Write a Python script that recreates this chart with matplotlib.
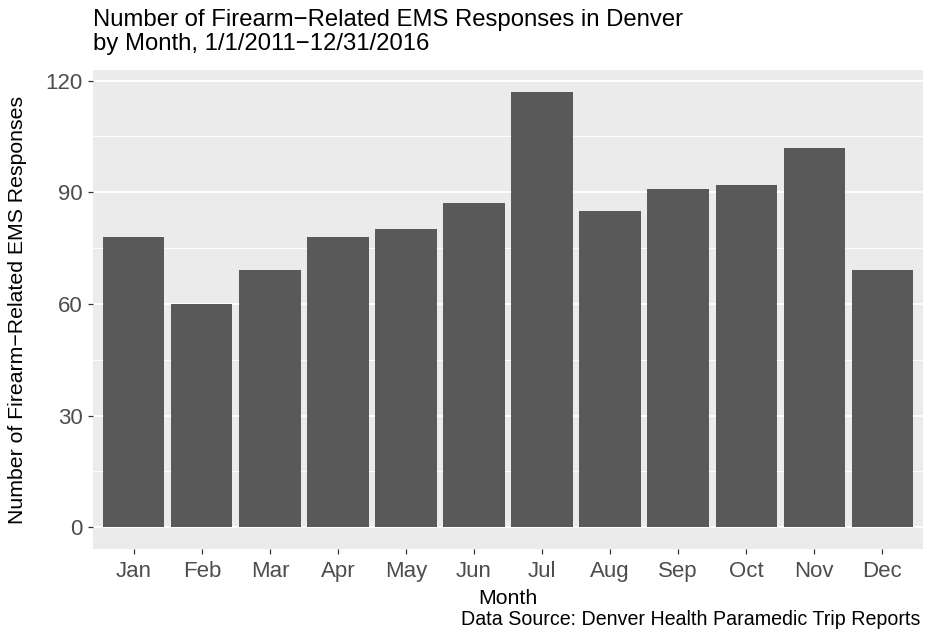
import matplotlib
matplotlib.use("Agg")
import matplotlib.pyplot as plt

# monthly counts
months = ["Jan", "Feb", "Mar", "Apr", "May", "Jun",
          "Jul", "Aug", "Sep", "Oct", "Nov", "Dec"]
responses = [78, 60, 69, 78, 80, 87, 117, 85, 91, 92, 102, 69]
y_ticks = [0, 30, 60, 90, 120]
y_minor = [15, 45, 75, 105]

plt.rcParams["font.family"] = ["Liberation Sans", "DejaVu Sans"]

W, H = 925, 637
fig = plt.figure(figsize=(W / 100, H / 100), dpi=100)
# panel spans roughly x 93..923, y 70..549 px
ax = fig.add_axes([93 / W, 1 - 549 / H, 830 / W, 479 / H])
ax.set_facecolor("#EBEBEB")

x = list(range(1, len(months) + 1))
ax.bar(x, responses, width=0.9, color="#595959", zorder=3)

top = max(responses)
ax.set_ylim(-0.05 * top, top * 1.05)
ax.set_xlim(0.4, len(months) + 0.6)

ax.set_yticks(y_ticks)
ax.set_yticks(y_minor, minor=True)
ax.set_xticks(x)
ax.set_xticklabels(months)

ax.grid(which="major", axis="y", color="white", linewidth=1.4, zorder=1)
ax.grid(which="minor", axis="y", color="white", linewidth=0.7, zorder=1)
for s in ax.spines.values():
    s.set_visible(False)

ax.tick_params(axis="both", which="major", colors="#333333", length=3.6, width=0.9,
               labelsize=16, labelcolor="#4D4D4D")
ax.tick_params(axis="x", pad=5)
ax.tick_params(axis="y", pad=4)
ax.tick_params(axis="y", which="minor", length=0)

fig.text(0.549, 1 - 604 / H, "Month", fontsize=15.3, ha="center", va="baseline")
fig.text(18 / W, 1 - 309.5 / H, "Number of Firearm\u2212Related EMS Responses",
         fontsize=15.3, rotation=90, ha="center", va="center")

fig.text(93 / W, 1 - 26 / H, "Number of Firearm\u2212Related EMS Responses in Denver",
         fontsize=17.2, ha="left", va="baseline")
fig.text(93 / W, 1 - 50 / H, "by Month, 1/1/2011\u221212/31/2016",
         fontsize=17.2, ha="left", va="baseline")
fig.text(920 / W, 1 - 625 / H, "Data Source: Denver Health Paramedic Trip Reports",
         fontsize=14.1, ha="right", va="baseline")

fig.savefig("out.png", dpi=100)
